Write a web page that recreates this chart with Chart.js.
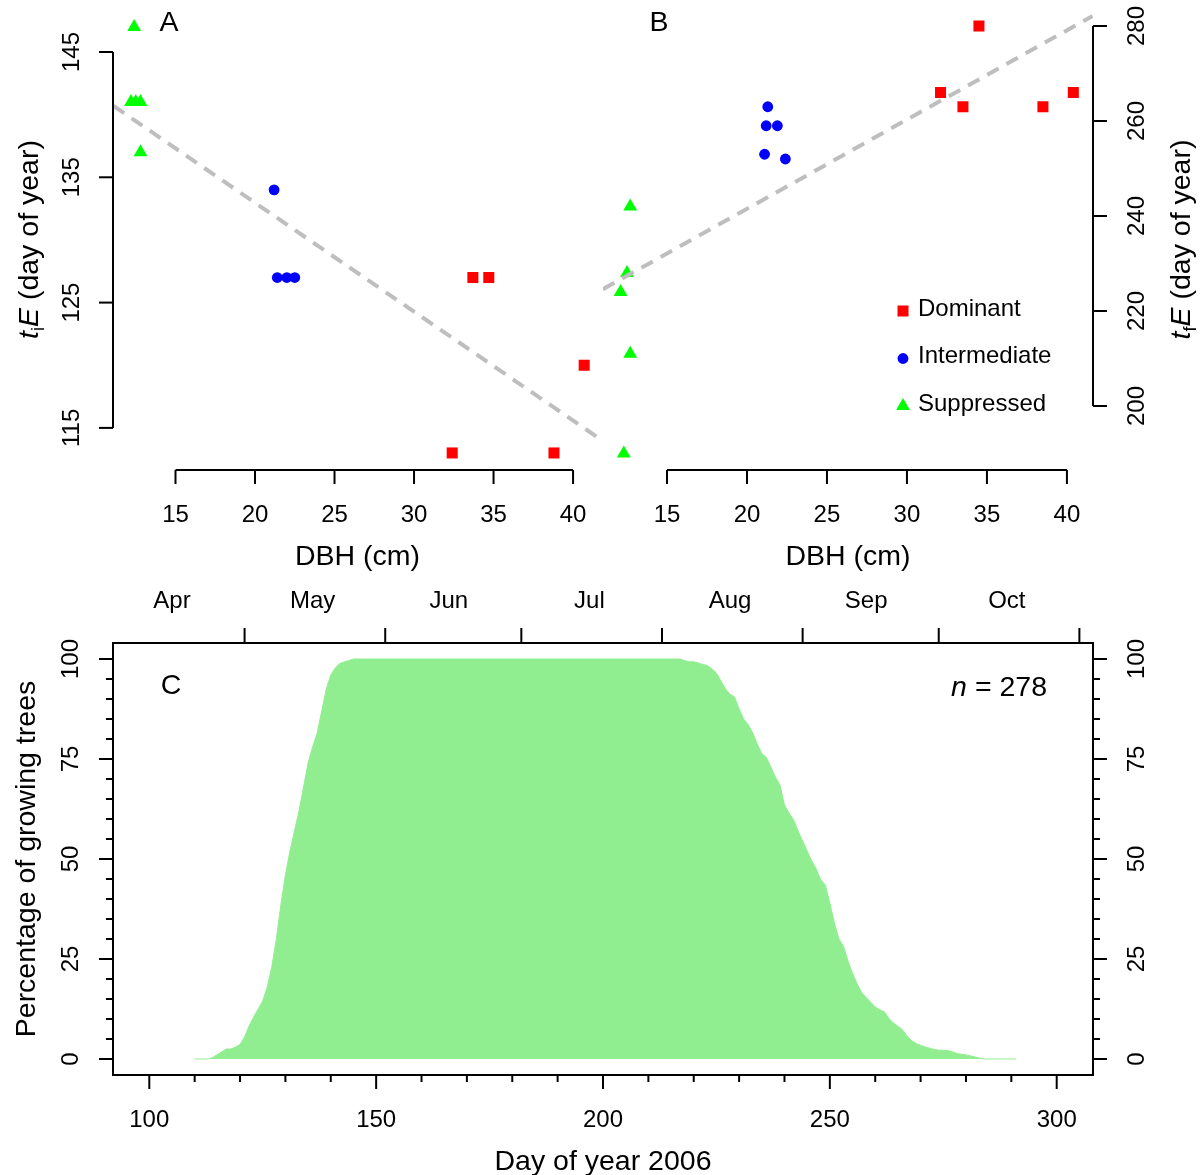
<!DOCTYPE html>
<html>
<head>
<meta charset="utf-8">
<title>Growth onset and cessation vs DBH</title>
<script src="https://cdn.jsdelivr.net/npm/chart.js@4.4.1/dist/chart.umd.min.js"></script>
<style>
  html, body { margin: 0; padding: 0; background: #ffffff; }
  #fig { position: relative; width: 1200px; height: 1175px; overflow: hidden; }
  #fig canvas { position: absolute; left: 0; top: 0; }
</style>
</head>
<body>
<div id="fig">
  <canvas id="chartA" width="1200" height="1175"></canvas>
  <canvas id="chartB" width="1200" height="1175"></canvas>
  <canvas id="chartC" width="1200" height="1175"></canvas>
</div>
<script>
// ---- values ----

// panel A: onset of growth (tiE) against DBH
const domA_dbh = [33.7, 34.7, 40.7, 32.4, 38.8];
const domA_tiE = [127, 127, 120, 113, 113];
const intA_dbh = [21.2, 21.4, 22.0, 22.5];
const intA_tiE = [134, 127, 127, 127];
const supA_dbh = [12.4, 12.2, 12.5, 12.8, 12.8];
const supA_tiE = [147, 141, 141, 141, 137];
const fitA_dbh = [11.1, 41.6];
const fitA_tiE = [140.7, 114.2];

// panel B: end of growth (tfE) against DBH
const domB_dbh = [34.5, 32.1, 33.5, 38.5, 40.4];
const domB_tfE = [280, 266, 263, 263, 266];
const intB_dbh = [21.3, 21.2, 21.9, 21.1, 22.4];
const intB_tfE = [263, 259, 259, 253, 252];
const supB_dbh = [12.7, 12.5, 12.1, 12.7, 12.3];
const supB_tfE = [242, 228, 224, 211, 190];
const fitB_dbh = [11.0, 41.6];
const fitB_tfE = [224.6, 282.1];

const dbhTicks = [15, 20, 25, 30, 35, 40];
const tiTicks = [115, 125, 135, 145];
const tfTicks = [200, 220, 240, 260, 280];
const groups = ['Dominant', 'Intermediate', 'Suppressed'];

// panel C: percentage of trees growing on each day
const growDay = [110, 113, 114, 115, 116, 117, 118, 119, 120, 121, 122, 123, 124, 125, 126, 127,
  128, 129, 130, 131, 132, 133, 134, 135, 136, 137, 138, 139, 140, 141, 142, 143, 144, 145,
  217, 218, 219, 220, 221, 222, 223, 224, 225, 226, 227, 228, 229, 230, 231, 232, 233, 234,
  235, 236, 237, 238, 239, 240, 241, 242, 243, 244, 245, 246, 247, 248, 249, 250, 251, 252,
  253, 254, 255, 256, 257, 258, 259, 260, 261, 262, 263, 264, 265, 266, 267, 268, 269, 270,
  271, 272, 273, 274, 275, 276, 277, 278, 279, 280, 281, 282, 283, 284, 291];
const growPct = [0, 0, 0.4, 1.1, 1.8, 2.5, 2.5, 3.0, 3.6, 5.5, 8.3, 10.5, 12.5, 14.5, 18, 23,
  30, 38.5, 46, 52, 57, 62, 68, 74, 78, 81.5, 87, 92.5, 96, 97.8, 98.9, 99.3, 99.6, 100,
  100, 99.6, 99.3, 99.3, 99, 98.6, 98.4, 97.5, 96.5, 94.5, 92.5, 91.2, 90.5, 87.5, 85, 83.6, 81.5, 78.8,
  76.3, 75.4, 73, 70.5, 68.5, 63.5, 61.5, 59.8, 57, 54.5, 52, 49.5, 47.5, 44.8, 43.5, 39, 34, 30,
  28.2, 24.5, 21.4, 18.8, 16.6, 15.4, 14.2, 13, 12.3, 11.8, 10.2, 9, 8.2, 7.3, 5.8, 4.6, 3.9, 3.4,
  3.0, 2.7, 2.4, 2.2, 2.2, 2.1, 1.8, 1.4, 1.2, 1.0, 0.8, 0.5, 0.2, 0, 0];
const nTrees = 278;

const dayTicks = [100, 150, 200, 250, 300];
const dayMinor = [110, 120, 130, 140, 160, 170, 180, 190, 210, 220, 230, 240, 260, 270, 280, 290];
const pctTicks = [0, 25, 50, 75, 100];
const pctMinor = [5, 10, 15, 20, 30, 35, 40, 45, 55, 60, 65, 70, 80, 85, 90, 95];
const monthLabels = ['Apr', 'May', 'Jun', 'Jul', 'Aug', 'Sep', 'Oct'];
const monthMid = [105, 136, 166, 197, 228, 258, 289];
const monthStart = [121, 152, 182, 213, 244, 274, 305];

// axis limits (R style, data range + 4%)
const limA = { x: [11.07, 41.82], y: [111.64, 148.43] };
const limB = { x: [11.0, 41.63], y: [186.53, 283.58] };
const limC = { x: [92, 308], y: [-4, 104] };

// ---- drawing helpers ----
const FONT = '"Liberation Sans", Arial, Helvetica, sans-serif';
const TICK_FONT = '24px ' + FONT;
const TITLE_FONT = '28.5px ' + FONT;
const markStyle = {
  Dominant: { style: 'rect', radius: 7.8, color: '#ff0000' },
  Intermediate: { style: 'circle', radius: 5.4, color: '#0000ff' },
  Suppressed: { style: 'triangle', radius: 8, color: '#00ff00' }
};

function line(ctx, x1, y1, x2, y2) {
  ctx.beginPath();
  ctx.moveTo(x1, y1);
  ctx.lineTo(x2, y2);
  ctx.stroke();
}

function vText(ctx, text, x, y, font) {
  ctx.save();
  ctx.translate(x, y);
  ctx.rotate(-Math.PI / 2);
  ctx.font = font;
  ctx.textAlign = 'center';
  ctx.textBaseline = 'middle';
  ctx.fillText(text, 0, 0);
  ctx.restore();
}

// text in pieces (italic, subscript...), turned = reads bottom to top
function richText(ctx, parts, x, y, turned, align) {
  ctx.save();
  ctx.translate(x, y);
  if (turned) ctx.rotate(-Math.PI / 2);
  ctx.textBaseline = 'alphabetic';
  ctx.textAlign = 'left';
  let w = 0;
  parts.forEach(p => { ctx.font = p.font; w += ctx.measureText(p.text).width; });
  let cx = align === 'right' ? -w : -w / 2;
  parts.forEach(p => {
    ctx.font = p.font;
    ctx.fillText(p.text, cx, p.dy);
    cx += ctx.measureText(p.text).width;
  });
  ctx.restore();
}

function dayTitle(sub) {
  return [
    { text: 't', font: 'italic 28.5px ' + FONT, dy: 10 },
    { text: sub, font: '18px ' + FONT, dy: 16 },
    { text: 'E', font: 'italic 28.5px ' + FONT, dy: 10 },
    { text: ' (day of year)', font: '28.5px ' + FONT, dy: 10 }
  ];
}

function marker(ctx, name, x, y) {
  const m = markStyle[name];
  ctx.fillStyle = m.color;
  ctx.beginPath();
  if (m.style === 'rect') {
    ctx.rect(x - 5.5, y - 5.5, 11, 11);
  } else if (m.style === 'circle') {
    ctx.arc(x, y, 5.4, 0, Math.PI * 2);
  } else {
    ctx.moveTo(x, y - 8);
    ctx.lineTo(x + 6.9, y + 4);
    ctx.lineTo(x - 6.9, y + 4);
    ctx.closePath();
  }
  ctx.fill();
}

function dbhAxis(ctx, sx, a) {
  const y = a.bottom;
  line(ctx, sx.getPixelForValue(dbhTicks[0]), y, sx.getPixelForValue(dbhTicks[dbhTicks.length - 1]), y);
  ctx.font = TICK_FONT;
  ctx.textAlign = 'center';
  ctx.textBaseline = 'middle';
  dbhTicks.forEach(v => {
    const p = sx.getPixelForValue(v);
    line(ctx, p, y, p, y + 14);
    ctx.fillText(String(v), p, y + 45);
  });
  ctx.font = TITLE_FONT;
  ctx.fillText('DBH (cm)', (a.left + a.right) / 2, y + 87);
}

function pts(xs, ys) {
  return xs.map((x, i) => ({ x: x, y: ys[i] }));
}

function scatterSet(name, xs, ys) {
  const m = markStyle[name];
  return {
    label: name,
    data: pts(xs, ys),
    pointStyle: m.style,
    pointRadius: m.radius,
    pointHoverRadius: m.radius,
    backgroundColor: m.color,
    borderColor: m.color,
    pointBorderWidth: 0,
    showLine: false,
    clip: false
  };
}

function fitSet(xs, ys) {
  return {
    label: 'fit',
    data: pts(xs, ys),
    showLine: true,
    borderColor: '#bebebe',
    borderWidth: 4,
    borderDash: [13, 9],
    pointRadius: 0,
    fill: false
  };
}

function baseOptions(pad, lim) {
  return {
    responsive: false,
    devicePixelRatio: 1,
    animation: false,
    events: [],
    layout: { padding: pad },
    plugins: { legend: { display: false }, tooltip: { enabled: false } },
    scales: {
      x: { type: 'linear', display: false, min: lim.x[0], max: lim.x[1] },
      y: { type: 'linear', display: false, min: lim.y[0], max: lim.y[1] }
    }
  };
}

// ---- panel A ----
const axesA = {
  id: 'axesA',
  afterDraw(chart) {
    const ctx = chart.ctx, a = chart.chartArea, sx = chart.scales.x, sy = chart.scales.y;
    ctx.save();
    ctx.strokeStyle = '#000';
    ctx.fillStyle = '#000';
    ctx.lineWidth = 2;
    line(ctx, a.left, sy.getPixelForValue(tiTicks[0]), a.left, sy.getPixelForValue(tiTicks[tiTicks.length - 1]));
    tiTicks.forEach(v => {
      const p = sy.getPixelForValue(v);
      line(ctx, a.left - 14, p, a.left, p);
      vText(ctx, String(v), a.left - 41, p, TICK_FONT);
    });
    dbhAxis(ctx, sx, a);
    richText(ctx, dayTitle('i'), a.left - 85, (a.top + a.bottom) / 2, true);
    ctx.font = TITLE_FONT;
    ctx.textAlign = 'center';
    ctx.textBaseline = 'middle';
    ctx.fillText('A', a.left + 56, a.top + 14);
    ctx.restore();
  }
};

new Chart(document.getElementById('chartA'), {
  type: 'scatter',
  data: {
    datasets: [
      fitSet(fitA_dbh, fitA_tiE),
      scatterSet('Dominant', domA_dbh, domA_tiE),
      scatterSet('Intermediate', intA_dbh, intA_tiE),
      scatterSet('Suppressed', supA_dbh, supA_tiE)
    ]
  },
  options: baseOptions({ left: 113, top: 9, right: 1200 - 602, bottom: 1175 - 470 }, limA),
  plugins: [axesA]
});

// ---- panel B ----
const axesB = {
  id: 'axesB',
  afterDraw(chart) {
    const ctx = chart.ctx, a = chart.chartArea, sx = chart.scales.x, sy = chart.scales.y;
    ctx.save();
    ctx.strokeStyle = '#000';
    ctx.fillStyle = '#000';
    ctx.lineWidth = 2;
    line(ctx, a.right, sy.getPixelForValue(tfTicks[0]), a.right, sy.getPixelForValue(tfTicks[tfTicks.length - 1]));
    tfTicks.forEach(v => {
      const p = sy.getPixelForValue(v);
      line(ctx, a.right, p, a.right + 14, p);
      vText(ctx, String(v), a.right + 44, p, TICK_FONT);
    });
    dbhAxis(ctx, sx, a);
    richText(ctx, dayTitle('f'), a.right + 87, (a.top + a.bottom) / 2, true);
    ctx.font = TITLE_FONT;
    ctx.textAlign = 'center';
    ctx.textBaseline = 'middle';
    ctx.fillText('B', a.left + 56, a.top + 14);

    // legend
    groups.forEach((g, i) => {
      const ly = a.top + 300 + i * 47.5;
      marker(ctx, g, a.left + 300, ly + 2);
      ctx.fillStyle = '#000';
      ctx.font = TICK_FONT;
      ctx.textAlign = 'left';
      ctx.fillText(g, a.left + 315, ly);
    });
    ctx.restore();
  }
};

new Chart(document.getElementById('chartB'), {
  type: 'scatter',
  data: {
    datasets: [
      fitSet(fitB_dbh, fitB_tfE),
      scatterSet('Dominant', domB_dbh, domB_tfE),
      scatterSet('Intermediate', intB_dbh, intB_tfE),
      scatterSet('Suppressed', supB_dbh, supB_tfE)
    ]
  },
  options: baseOptions({ left: 603, top: 9, right: 1200 - 1093, bottom: 1175 - 470 }, limB),
  plugins: [axesB]
});

// ---- panel C ----
const axesC = {
  id: 'axesC',
  afterDraw(chart) {
    const ctx = chart.ctx, a = chart.chartArea, sx = chart.scales.x, sy = chart.scales.y;
    ctx.save();
    ctx.strokeStyle = '#000';
    ctx.fillStyle = '#000';
    ctx.lineWidth = 2;
    ctx.strokeRect(a.left, a.top, a.right - a.left, a.bottom - a.top);

    pctMinor.forEach(v => {
      const p = sy.getPixelForValue(v);
      line(ctx, a.left - 7, p, a.left, p);
      line(ctx, a.right, p, a.right + 7, p);
    });
    pctTicks.forEach(v => {
      const p = sy.getPixelForValue(v);
      line(ctx, a.left - 14, p, a.left, p);
      line(ctx, a.right, p, a.right + 14, p);
      vText(ctx, String(v), a.left - 42, p, TICK_FONT);
      vText(ctx, String(v), a.right + 44, p, TICK_FONT);
    });

    dayMinor.forEach(v => {
      const p = sx.getPixelForValue(v);
      line(ctx, p, a.bottom, p, a.bottom + 7);
    });
    ctx.font = TICK_FONT;
    ctx.textAlign = 'center';
    ctx.textBaseline = 'middle';
    dayTicks.forEach(v => {
      const p = sx.getPixelForValue(v);
      line(ctx, p, a.bottom, p, a.bottom + 14);
      ctx.fillText(String(v), p, a.bottom + 45);
    });

    monthStart.forEach(d => {
      const p = sx.getPixelForValue(d);
      line(ctx, p, a.top, p, a.top - 15);
    });
    monthLabels.forEach((m, i) => {
      ctx.fillText(m, sx.getPixelForValue(monthMid[i]), a.top - 42);
    });

    ctx.font = TITLE_FONT;
    ctx.fillText('Day of year 2006', (a.left + a.right) / 2, a.bottom + 87);
    ctx.fillText('C', a.left + 58, a.top + 43);
    vText(ctx, 'Percentage of growing trees', a.left - 86, (a.top + a.bottom) / 2, TITLE_FONT);
    richText(ctx, [
      { text: 'n', font: 'italic 28.5px ' + FONT, dy: 10 },
      { text: ' = ' + nTrees, font: '28.5px ' + FONT, dy: 10 }
    ], a.right - 46, a.top + 43, false, 'right');
    ctx.restore();
  }
};

new Chart(document.getElementById('chartC'), {
  type: 'line',
  data: {
    datasets: [{
      label: 'growing trees (%)',
      data: pts(growDay, growPct),
      backgroundColor: '#90ee90',
      borderColor: '#90ee90',
      borderWidth: 1,
      pointRadius: 0,
      tension: 0,
      fill: 'origin'
    }]
  },
  options: baseOptions({ left: 113, top: 643, right: 1200 - 1093, bottom: 1175 - 1075 }, limC),
  plugins: [axesC]
});
</script>
</body>
</html>
